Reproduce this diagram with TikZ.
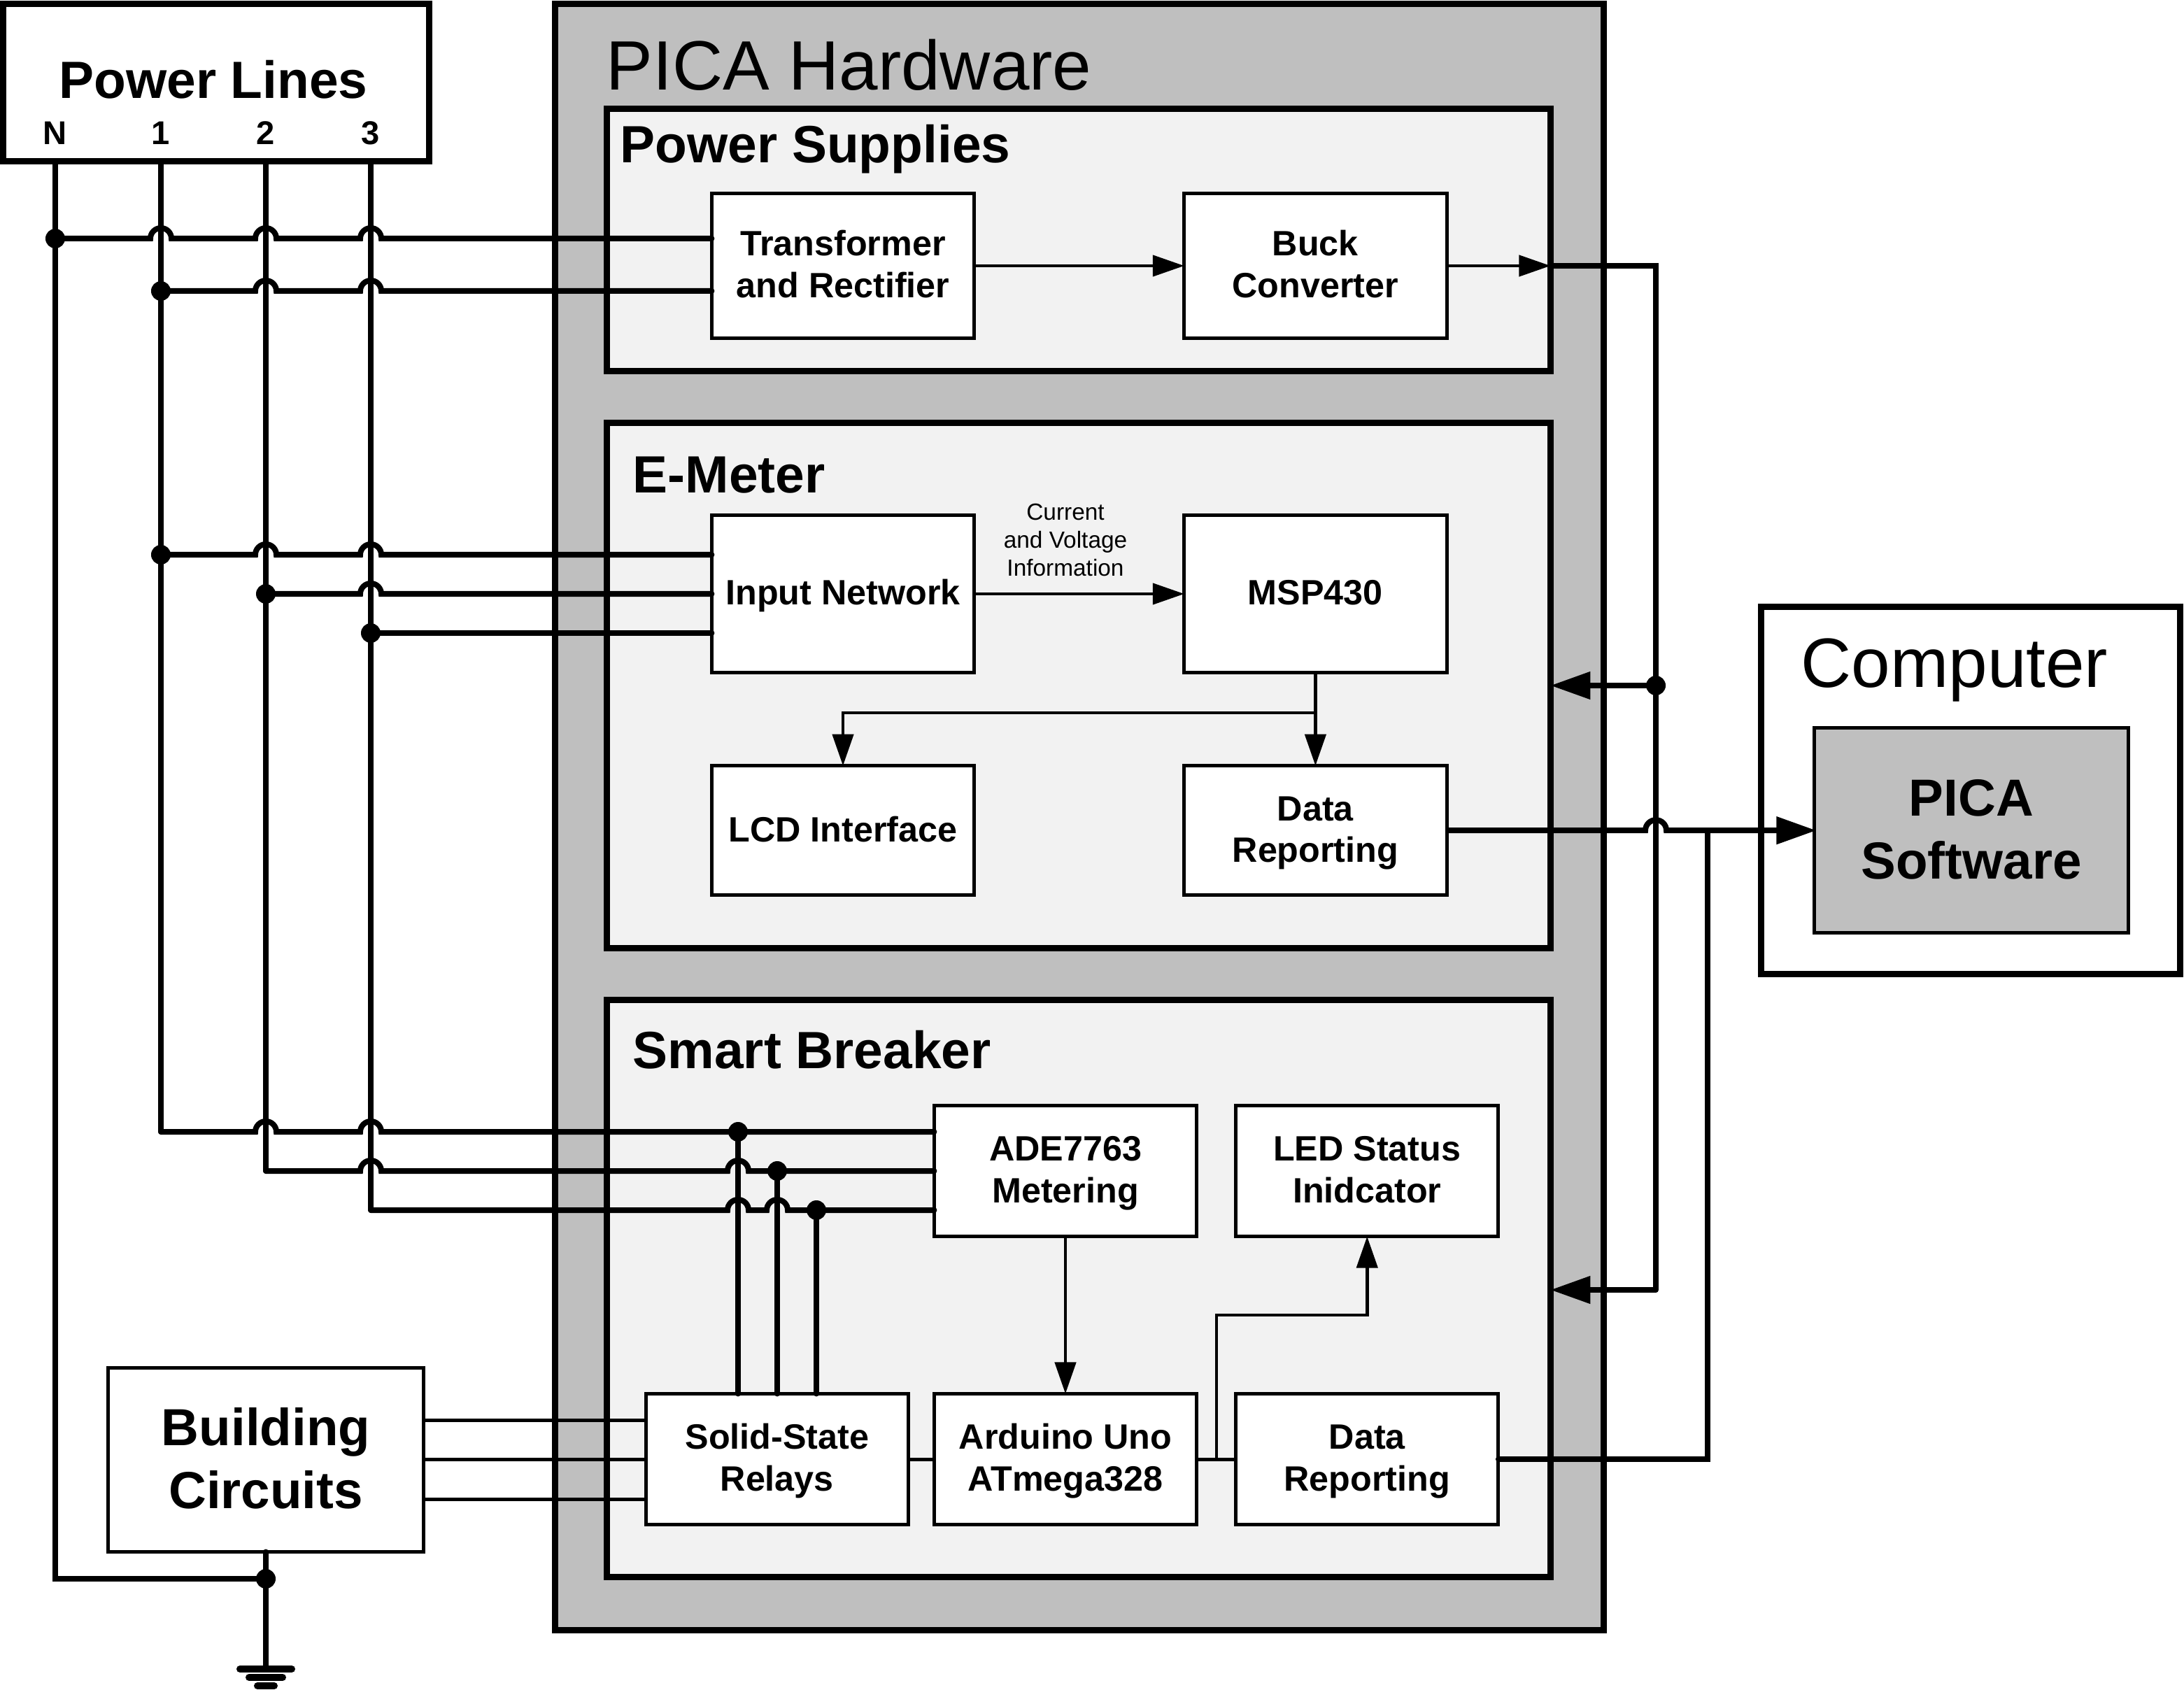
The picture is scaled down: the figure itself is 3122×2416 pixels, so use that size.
\documentclass[tikz,border=0pt]{standalone}
\usepackage{fontspec}
\setmainfont{Liberation Sans}
\usepackage{tikz}
\usetikzlibrary{arrows.meta, positioning, calc}
\usepackage{xcolor}
\definecolor{hardgris}{RGB}{191,191,191}
\definecolor{modgris}{RGB}{242,242,242}
% invisible rules, keep the capitals centred in a box whatever the descenders
\newcommand{\blockstrut}{\rule[-3pt]{0pt}{15pt}}
\newcommand{\bigstrut}{\rule[-4pt]{0pt}{22pt}}
\newcommand{\blocktext}[2]{\blockstrut #1\\#2\blockstrut}
\newcommand{\bigtext}[2]{\bigstrut #1\\#2\bigstrut}
\tikzset{
  outerbox/.style={rectangle, draw=black, line width=0.09cm, outer sep=0pt, inner sep=0pt},
  modbox/.style={outerbox, fill=modgris},
  blockbox/.style={rectangle, draw=black, fill=white, line width=0.05cm, outer sep=0pt,
                   inner sep=0pt, minimum width=3.75cm, align=center,
                   font=\fontsize{14.3}{17}\selectfont\bfseries},
  bigbox/.style={rectangle, draw=black, line width=0.05cm, outer sep=0pt, inner sep=0pt,
                 align=center, font=\fontsize{21.2}{25.7}\selectfont\bfseries},
  hugelabel/.style={anchor=base west, inner sep=0pt, font=\fontsize{28.4}{32}\selectfont},
  modlabel/.style={anchor=base west, inner sep=0pt, font=\fontsize{21.3}{25}\selectfont\bfseries},
  pinlabel/.style={anchor=base, inner sep=0pt, font=\fontsize{13.4}{16}\selectfont\bfseries},
  smalllabel/.style={align=center, inner sep=0pt, font=\fontsize{9.5}{11.3}\selectfont},
  dot/.style={circle, fill=black, inner sep=0pt, minimum size=0.28cm},
  bus/.style={line width=0.08cm, line cap=round},
  thinwire/.style={line width=0.05cm},
  flecha/.style={-{Triangle[length=0.45cm, width=0.3cm]}, line width=0.045cm},
  flechabus/.style={-{Triangle[length=0.57cm, width=0.38cm]}, line width=0.08cm},
  gndbar/.style={line width=0.1cm, line cap=round}
}
% horizontal wire jumping over a vertical one
\newcommand{\hopat}[1]{-- ($(#1)+(-15,0)$) arc[start angle=180, end angle=0, radius=0.15cm]}

\begin{document}
\begin{tikzpicture}[x=0.01cm, y=-0.01cm]
    \useasboundingbox (0,0) rectangle (3122,2416);

    % outer boxes
    \node[outerbox, fill=white, minimum width=6.08cm, minimum height=2.25cm] (lines) at (309,118) {};
    \node[outerbox, fill=hardgris, minimum width=14.98cm, minimum height=23.24cm] (pica) at (1543,1168) {};
    \node[modbox, minimum width=13.48cm, minimum height=3.75cm] (psu) at (1542,343) {};
    \node[modbox, minimum width=13.48cm, minimum height=7.5cm] (emeter) at (1542,980) {};
    \node[modbox, minimum width=13.48cm, minimum height=8.25cm] (breaker) at (1542,1842) {};
    \node[outerbox, fill=white, minimum width=5.99cm, minimum height=5.25cm] (pc) at (2817,1130) {};

    \node[hugelabel] at (866,129) {PICA Hardware};
    \node[hugelabel] at (2574,982) {Computer};
    \node[modlabel] at (886,233) {Power Supplies};
    \node[modlabel] at (904,705) {E-Meter};
    \node[modlabel] at (904,1527) {Smart Breaker};
    \node[anchor=base, inner sep=0pt, font=\fontsize{21.3}{25}\selectfont\bfseries] at (305,141) {Power Lines};
    \node[pinlabel] (pinN) at (79,207) {N};
    \node[pinlabel] (pin1) at (230,207) {1};
    \node[pinlabel] (pin2) at (380,207) {2};
    \node[pinlabel] (pin3) at (530,207) {3};

    % blocks
    \node[blockbox, minimum height=2.07cm] (xfmr) at (1205,380) {\blocktext{Transformer}{and Rectifier}};
    \node[blockbox, minimum height=2.07cm, right=3cm of xfmr] (buck) {\blocktext{Buck}{Converter}};
    \node[blockbox, minimum height=2.25cm] (inet) at (1205,849) {\blockstrut Input Network};
    \node[blockbox, minimum height=2.25cm, right=3cm of inet] (msp) {\blockstrut MSP430};
    \node[blockbox, minimum height=1.85cm, below=1.33cm of inet] (lcd) {\blockstrut LCD Interface};
    \node[blockbox, minimum height=1.85cm, below=1.33cm of msp] (report) {\blocktext{Data}{Reporting}};
    \node[blockbox, minimum height=1.87cm] (ade) at (1523,1674) {\blocktext{ADE7763}{Metering}};
    \node[blockbox, minimum height=1.87cm, right=0.56cm of ade] (led) {\blocktext{LED Status}{Inidcator}};
    \node[blockbox, minimum height=1.87cm] (uno) at (1523,2086) {\blocktext{Arduino Uno}{ATmega328}};
    \node[blockbox, minimum height=1.87cm, left=0.37cm of uno] (ssr) {\blocktext{Solid-State}{Relays}};
    \node[blockbox, minimum height=1.87cm, right=0.56cm of uno] (report2) {\blocktext{Data}{Reporting}};
    \node[bigbox, fill=white, minimum width=4.5cm, minimum height=2.63cm] (bldg) at (380,2087) {\bigtext{Building}{Circuits}};
    \node[bigbox, fill=hardgris, minimum width=4.49cm, minimum height=2.93cm] (soft) at (2818,1187) {\bigtext{PICA}{Software}};

    \node[smalllabel] at (1523,772) {Current\\and Voltage\\Information};

    % junctions
    \node[dot] (jN) at (79,341) {};
    \node[dot] (j1a) at (230,416) {};
    \node[dot] (j1b) at (230,793) {};
    \node[dot] (j2b) at (380,849) {};
    \node[dot] (j3b) at (530,905) {};
    \node[dot] (jA) at (1055,1618) {};
    \node[dot] (jB) at (1111,1674) {};
    \node[dot] (jC) at (1167,1730) {};
    \node[dot] (jG) at (380,2257) {};
    \node[dot] (jE) at (2367,980) {};
    \coordinate (c1) at (230,1618);
    \coordinate (c2) at (380,1674);
    \coordinate (c3) at (530,1730);
    \coordinate (feed) at (2367,380);
    \coordinate (feedS) at (2367,1844);
    \coordinate (tap) at (2441,1187);
    \coordinate (split) at (1880,1019);
    \coordinate (branch) at (1739,2086);
    \coordinate (bend) at (1739,1880);
    \coordinate (gnd) at (380,2386);

    % power line verticals
    \draw[bus] (pinN |- lines.south) |- (jG.center);
    \draw[bus] (pin1 |- lines.south) -- (c1);
    \draw[bus] (pin2 |- lines.south) -- (c2);
    \draw[bus] (pin3 |- lines.south) -- (c3);

    % power supply feeds
    \draw[bus] (jN.center) \hopat{pin1 |- jN} \hopat{pin2 |- jN} \hopat{pin3 |- jN} -- (xfmr.west |- jN);
    \draw[bus] (j1a.center) \hopat{pin2 |- j1a} \hopat{pin3 |- j1a} -- (xfmr.west |- j1a);

    % e-meter feeds
    \draw[bus] (j1b.center) \hopat{pin2 |- j1b} \hopat{pin3 |- j1b} -- (inet.west |- j1b);
    \draw[bus] (j2b.center) \hopat{pin3 |- j2b} -- (inet.west |- j2b);
    \draw[bus] (j3b.center) -- (inet.west |- j3b);

    % breaker feeds
    \draw[bus] (c1) \hopat{pin2 |- c1} \hopat{pin3 |- c1} -- (jA.center) -- (ade.west |- jA);
    \draw[bus] (c2) \hopat{pin3 |- c2} \hopat{jA |- c2} -- (jB.center) -- (ade.west |- jB);
    \draw[bus] (c3) \hopat{jA |- c3} \hopat{jB |- c3} -- (jC.center) -- (ade.west |- jC);
    \draw[bus] (jA.center) -- (jA |- ssr.north);
    \draw[bus] (jB.center) -- (jB |- ssr.north);
    \draw[bus] (jC.center) -- (jC |- ssr.north);

    % block connections
    \draw[flecha] (xfmr) -- (buck);
    \draw[flecha] (buck) -- (psu.east |- buck);
    \draw[flecha] (inet) -- (msp);
    \draw[flecha] (msp) -- (report);
    \draw[flecha] (split) -| (lcd.north);
    \draw[flecha] (ade) -- (uno);
    \draw[flecha] (branch) -- (bend) -| (led.south);
    \draw[thinwire] (ssr) -- (uno);
    \draw[thinwire] (uno) -- (report2);
    \draw[thinwire] (bldg.east |- 0,2030) -- (ssr.west |- 0,2030);
    \draw[thinwire] (bldg.east |- ssr) -- (ssr);
    \draw[thinwire] (bldg.east |- 0,2143) -- (ssr.west |- 0,2143);

    % supply and data buses
    \draw[bus] (psu.east |- buck) -- (feed) -- (feedS);
    \draw[flechabus] (jE.center) -- (emeter.east |- jE);
    \draw[flechabus] (feedS) -- (breaker.east |- feedS);
    \draw[flechabus, shorten >=-0.03cm] (report.east) \hopat{jE |- report.east} -- (soft.west |- report.east);
    \draw[bus] (tap |- report.east) |- (report2.east);

    % ground
    \draw[bus] (bldg) -- (gnd);
    \draw[gndbar] ($(gnd)+(-37,0)$) -- ($(gnd)+(37,0)$);
    \draw[gndbar] ($(gnd)+(-24,12)$) -- ($(gnd)+(24,12)$);
    \draw[gndbar] ($(gnd)+(-12,24)$) -- ($(gnd)+(12,24)$);
\end{tikzpicture}
\end{document}
